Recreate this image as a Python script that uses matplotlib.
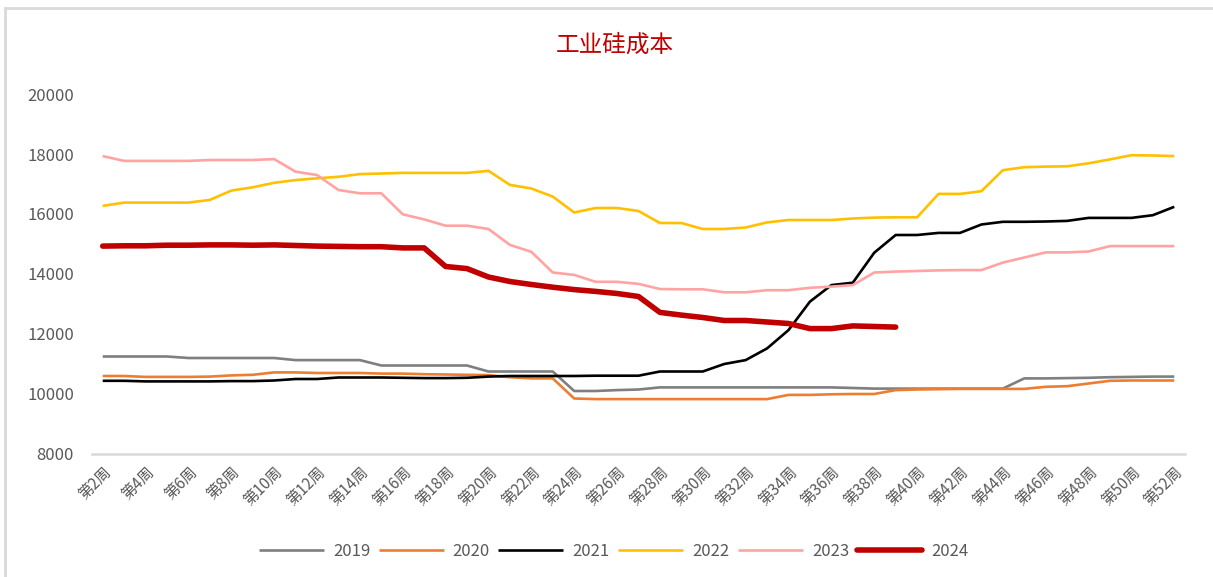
import matplotlib.pyplot as plt
from matplotlib.patches import Rectangle

# 中文字体
plt.rcParams['font.family'] = ['Noto Sans CJK SC', 'DejaVu Sans']
plt.rcParams['axes.unicode_minus'] = False

# 横轴: 第2周 ~ 第52周
weeks = ['第%d周' % w for w in range(2, 53)]

# 各年份工业硅成本(元/吨), 按周
cost_2019 = [11250, 11250, 11250, 11250, 11200, 11200, 11200, 11200, 11200, 11130,
             11130, 11130, 11130, 10950, 10950, 10950, 10950, 10950, 10750, 10750,
             10750, 10750, 10100, 10100, 10130, 10150, 10220, 10220, 10220, 10220,
             10220, 10220, 10220, 10220, 10220, 10200, 10180, 10180, 10180, 10180,
             10180, 10180, 10180, 10520, 10520, 10530, 10540, 10560, 10570, 10580,
             10580]
cost_2020 = [10600, 10600, 10570, 10570, 10570, 10580, 10620, 10640, 10720, 10720,
             10700, 10700, 10700, 10680, 10680, 10660, 10650, 10640, 10630, 10560,
             10520, 10520, 9850, 9830, 9830, 9830, 9830, 9830, 9830, 9830,
             9830, 9830, 9970, 9970, 9990, 10000, 10000, 10130, 10150, 10160,
             10170, 10170, 10170, 10170, 10240, 10260, 10350, 10440, 10450, 10450,
             10450]
cost_2021 = [10440, 10440, 10420, 10420, 10420, 10420, 10430, 10430, 10450, 10500,
             10500, 10550, 10550, 10550, 10540, 10530, 10530, 10540, 10580, 10600,
             10600, 10600, 10600, 10610, 10610, 10610, 10750, 10750, 10750, 11000,
             11130, 11520, 12130, 13080, 13630, 13710, 14710, 15300, 15300, 15370,
             15370, 15650, 15740, 15740, 15750, 15770, 15870, 15870, 15870, 15960,
             16240]
cost_2022 = [16270, 16380, 16380, 16380, 16380, 16470, 16780, 16890, 17040, 17130,
             17190, 17240, 17330, 17350, 17370, 17370, 17370, 17370, 17440, 16970,
             16850, 16580, 16050, 16200, 16200, 16100, 15700, 15700, 15500, 15500,
             15550, 15720, 15800, 15800, 15800, 15850, 15880, 15890, 15890, 16670,
             16670, 16760, 17460, 17560, 17580, 17590, 17690, 17820, 17960, 17950,
             17930]
cost_2023 = [17930, 17770, 17770, 17770, 17770, 17800, 17800, 17800, 17830, 17410,
             17300, 16800, 16690, 16690, 15990, 15820, 15610, 15610, 15500, 14970,
             14740, 14050, 13970, 13740, 13740, 13670, 13500, 13490, 13490, 13390,
             13390, 13460, 13460, 13540, 13580, 13630, 14050, 14080, 14100, 14120,
             14130, 14130, 14380, 14550, 14720, 14720, 14750, 14930, 14930, 14930,
             14930]
cost_2024 = [14930, 14940, 14940, 14960, 14960, 14970, 14970, 14960, 14970, 14950,
             14930, 14920, 14910, 14910, 14870, 14870, 14250, 14180, 13900, 13750,
             13650, 13560, 13480, 13420, 13350, 13250, 12720, 12630, 12550, 12450,
             12450, 12400, 12350, 12180, 12180, 12270, 12250, 12230]

series = [
    ('2019', cost_2019, '#7F7F7F', 1.9),
    ('2020', cost_2020, '#ED7D31', 1.9),
    ('2021', cost_2021, '#000000', 1.9),
    ('2022', cost_2022, '#FFC000', 1.9),
    ('2023', cost_2023, '#FFA3A3', 1.9),
    ('2024', cost_2024, '#C00000', 4.0),
]

fig = plt.figure(figsize=(12.13, 5.77), dpi=100)
ax = fig.add_axes([92 / 1213, 1 - 454 / 577, (1185 - 92) / 1213, 360 / 577])

for name, vals, color, lw in series:
    ax.plot(range(len(vals)), vals, color=color, linewidth=lw, label=name,
            solid_capstyle='round' if name == '2024' else 'butt')

ax.set_xlim(-0.5, len(weeks) - 0.5)
ax.set_ylim(8000, 20000)
ax.set_yticks(range(8000, 20001, 2000))
ax.set_xticks(range(0, len(weeks), 2))
ax.set_xticklabels(weeks[::2], rotation=45, ha='right', rotation_mode='anchor')

ax.tick_params(axis='x', length=0, pad=7, labelsize=11, labelcolor='#595959')
ax.tick_params(axis='y', length=0, pad=13, labelsize=12, labelcolor='#595959')

for s in ['top', 'right', 'left']:
    ax.spines[s].set_visible(False)
ax.spines['bottom'].set_color('#D9D9D9')
ax.spines['bottom'].set_linewidth(1.8)

fig.text(0.507, 1 - 45 / 577, '工业硅成本', color='#C00000', fontsize=17,
         fontweight='medium', ha='center', va='center')

leg = ax.legend(loc='center', bbox_to_anchor=(0.506, 0.045), bbox_transform=fig.transFigure,
                ncol=6, frameon=False, fontsize=12, handlelength=3.9,
                handletextpad=0.55, columnspacing=0.5)
for t in leg.get_texts():
    t.set_color('#595959')

# 外框
fig.patches.append(Rectangle((5 / 1213, -0.1), 1.2, 1.1 - 8 / 577, transform=fig.transFigure,
                             fill=False, edgecolor='#D9D9D9', linewidth=2))

fig.savefig('out.png', dpi=100)
